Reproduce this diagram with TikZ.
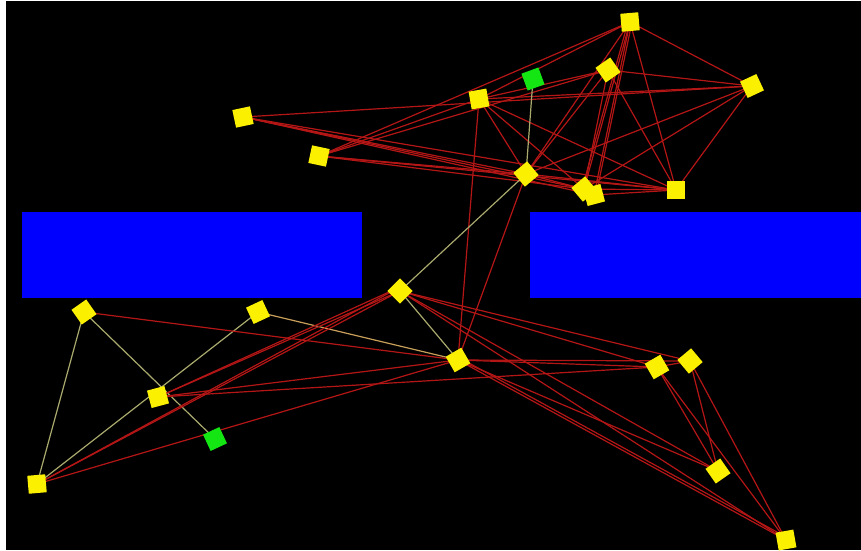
\documentclass[tikz,border=0pt]{standalone}
\usetikzlibrary{backgrounds}
\definecolor{bgblack}{RGB}{0,0,0}
\definecolor{wallblue}{RGB}{0,0,255}
\definecolor{nodeyellow}{RGB}{250,240,0}
\definecolor{nodegreen}{RGB}{20,230,20}
\definecolor{edgered}{RGB}{180,22,22}
\definecolor{edgeolive}{RGB}{170,170,110}
\definecolor{edgeorange}{RGB}{200,160,90}
\tikzset{
  ynode/.style={rectangle, fill=nodeyellow, minimum size=18pt, inner sep=0pt, outer sep=0pt},
  gnode/.style={rectangle, fill=nodegreen, minimum size=18pt, inner sep=0pt, outer sep=0pt},
  wall/.style={fill=wallblue, draw=none},
  redge/.style={draw=edgered, line width=1.2pt},
  oedge/.style={draw=edgeolive, line width=1.2pt},
  aedge/.style={draw=edgeorange, line width=1.2pt}
}
\begin{document}
\begin{tikzpicture}[x=1pt,y=-1pt]
\useasboundingbox (0,0) rectangle (861,550);
% upper cluster
\node[ynode, rotate=12] (A) at (243,117) {};
\node[ynode, rotate=-12] (B) at (319,156) {};
\node[ynode, rotate=10] (C) at (479,99) {};
\node[gnode, rotate=20] (G1) at (533,79) {};
\node[ynode, rotate=5] (D) at (630,22) {};
\node[ynode, rotate=35] (E) at (608,70) {};
\node[ynode, rotate=25] (F) at (752,86) {};
\node[ynode, rotate=40] (H) at (526,174) {};
\node[ynode, rotate=40] (I) at (584,189) {};
\node[ynode, rotate=15] (I2) at (594,195) {};
\node[ynode, rotate=0] (J) at (676,190) {};
% lower cluster
\node[ynode, rotate=45] (K) at (400,291) {};
\node[ynode, rotate=35] (L) at (84,312) {};
\node[ynode, rotate=25] (M) at (258,312) {};
\node[ynode, rotate=30] (N) at (458,360) {};
\node[ynode, rotate=15] (O) at (158,397) {};
\node[gnode, rotate=25] (G2) at (215,439) {};
\node[ynode, rotate=5] (P) at (37,484) {};
\node[ynode, rotate=30] (Q) at (657,367) {};
\node[ynode, rotate=40] (R) at (690,361) {};
\node[ynode, rotate=35] (S) at (718,471) {};
\node[ynode, rotate=10] (T) at (786,540) {};
\begin{scope}[on background layer]
\fill[white] (0,0) rectangle (861,550);
\fill[bgblack] (6,1) rectangle (861,550);
% walls
\path[wall] (22,212) rectangle (362,298);
\path[wall] (530,212) rectangle (861,298);
% upper red edges
\foreach \a/\b in {A/F,A/H,A/I,A/J,A/I2,
  B/D,B/C,B/E,B/H,B/I,B/J,
  C/N,C/H,C/I,C/J,C/F,C/D,C/E,
  D/H,D/I,D/I2,D/J,D/F,
  E/F,E/H,E/J,E/I,
  F/H,F/I,F/J,
  H/I,H/J,H/N,I/J,I2/J}
  \draw[redge] (\a.center) -- (\b.center);
\draw[redge] ([xshift=-2pt]D.center) -- ([xshift=-2pt]I.center);
\draw[redge] ([xshift=2pt]D.center) -- ([xshift=2pt]I2.center);
% olive edges
\draw[oedge] (G1.center) -- (H.center);
\draw[oedge] (H.center) -- (K.center);
\draw[oedge] (K.center) -- (N.center);
\draw[oedge] (L.center) -- (P.center);
\draw[oedge] (L.center) -- (G2.center);
\draw[oedge] (M.center) -- (P.center);
\draw[aedge] (M.center) -- (N.center);
% lower red edges
\foreach \a/\b in {K/O,K/P,K/Q,K/R,K/T,K/S,
  L/N,
  N/O,N/P,N/Q,N/R,N/S,N/T,
  O/Q,
  Q/R,Q/S,Q/T,R/S,R/T}
  \draw[redge] (\a.center) -- (\b.center);
\draw[redge] ([yshift=4pt]K.center) -- (O.center);
\draw[redge] ([yshift=4pt]K.center) -- (P.center);
\draw[redge] ([yshift=3pt]N.center) -- ([yshift=3pt]T.center);
\end{scope}
\end{tikzpicture}
\end{document}
